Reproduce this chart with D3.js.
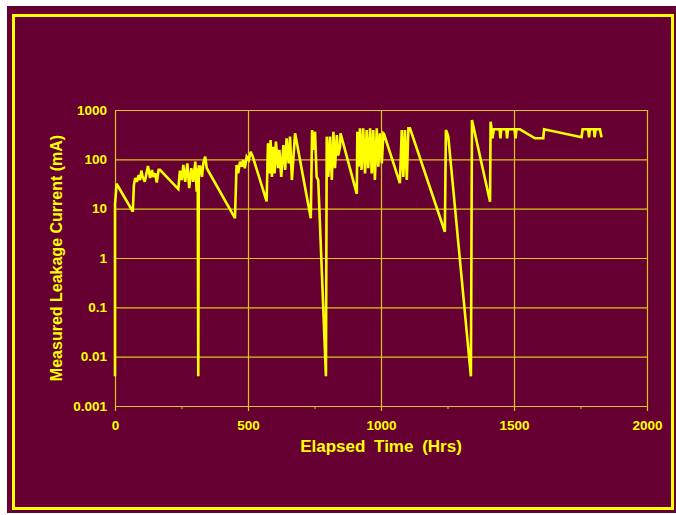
<!DOCTYPE html>
<html>
<head>
<meta charset="utf-8">
<script src="https://cdn.jsdelivr.net/npm/d3@7"></script>
<style>
body { margin: 0; background: #fff; }
text { font-family: "Liberation Sans", Arial, sans-serif; font-weight: bold; fill: #ffff00; }
</style>
</head>
<body>
<svg></svg>
<script>
// elapsed hours and measured current (mA)
var hours = [0, 0, 6, 67, 71, 76, 82, 89, 94, 99, 104, 112, 117, 124, 132, 139, 144, 151, 157, 164, 169,
	238, 244, 251, 257, 264, 272, 279, 287, 294, 302, 307, 311, 313, 315, 320, 327, 332, 339, 345,
	451, 457, 463, 470, 476, 482, 488, 495, 503, 510, 518,
	570, 575, 580, 585, 590, 595, 600, 605, 613, 618, 625, 633, 640, 645, 653, 658, 665, 677,
	736, 741, 745, 752, 758, 764, 793, 796, 802, 808, 815, 821, 827, 834, 839, 846, 848,
	909, 911, 916, 921, 927, 933, 940, 946, 952, 959, 965, 971, 977, 984, 990, 996, 1003, 1009, 1011,
	1071, 1078, 1084, 1090, 1097, 1103, 1109,
	1240, 1244, 1249, 1253, 1338, 1342, 1410, 1412,
	1416, 1419, 1424, 1446, 1449, 1452, 1471, 1474, 1477, 1502, 1506, 1509, 1522,
	1579, 1610, 1613, 1754, 1758, 1779, 1782, 1785, 1801, 1803, 1807, 1823, 1829];
var current = [0.004, 12, 32, 8.7, 30, 42, 35, 48, 38, 59, 44, 35, 48, 73, 42, 61, 44, 52, 34, 61, 61,
	25, 59, 38, 77, 35, 83, 26, 66, 35, 90, 22, 66, 0.004, 71, 71, 44, 83, 113, 66,
	6.4, 77, 52, 90, 71, 97, 66, 113, 97, 143, 113,
	14, 211, 52, 247, 44, 180, 52, 228, 66, 155, 44, 195, 61, 267, 83, 288, 38, 337,
	6.4, 394, 155, 363, 44, 38, 0.004, 288, 44, 288, 38, 363, 66, 311, 120, 180, 337,
	20, 363, 71, 426, 61, 426, 52, 394, 66, 426, 52, 394, 38, 426, 71, 337, 83, 337, 330,
	33, 394, 44, 394, 38, 426, 426,
	3.4, 394, 337, 288, 0.004, 627, 13.8, 579,
	406, 267, 406, 406, 267, 406, 406, 267, 406, 406, 267, 406, 406,
	267, 267, 406, 280, 406, 406, 280, 406, 406, 280, 406, 406, 280];

var xTicks = [0, 500, 1000, 1500, 2000];
var xMinor = [250, 750, 1250, 1750];
var yTicks = [0.001, 0.01, 0.1, 1, 10, 100, 1000];
var yLabels = ["0.001", "0.01", "0.1", "1", "10", "100", "1000"];

function draw(){
	var W = 676, H = 515;
	var pLeft = 115, pRight = 647, pTop = 110, pBottom = 406;

	var svg = d3.select("svg").attr("width", W).attr("height", H);

	svg.append("rect").attr("x", 7).attr("y", 6).attr("width", W - 7).attr("height", 507)
		.style("fill", "#660033");
	svg.append("rect").attr("x", 13.5).attr("y", 15.5).attr("width", 659).attr("height", 493)
		.style("fill", "none").style("stroke", "#ffff00").style("stroke-width", 3);

	var x = d3.scaleLinear().domain([0, 2000]).range([pLeft, pRight]);
	var y = d3.scaleLog().domain([0.001, 1000]).range([pBottom, pTop]);

	// horizontal grid + y labels
	var gy = svg.append("g").attr("transform", "translate(" + pLeft + ",0)")
		.call(d3.axisLeft(y).tickValues(yTicks)
			.tickFormat(function(d, i) { return yLabels[i]; })
			.tickSize(-(pRight - pLeft)).tickPadding(8));
	gy.select(".domain").remove();
	gy.selectAll("line").style("stroke", "#dcc418").style("stroke-width", 1.2);
	gy.selectAll("text").style("font-size", "13.5px").style("fill", "#ffff00");

	// vertical grid + x labels
	var gx = svg.append("g").attr("transform", "translate(0," + pBottom + ")")
		.call(d3.axisBottom(x).tickValues(xTicks).tickFormat(d3.format("d"))
			.tickSize(-(pBottom - pTop)).tickPadding(12));
	gx.select(".domain").remove();
	gx.selectAll("line").attr("y1", 5).style("stroke", "#dcc418").style("stroke-width", 1.2);
	gx.selectAll("text").attr("y", 14).style("font-size", "13.5px").style("fill", "#ffff00");

	var gm = svg.append("g").attr("transform", "translate(0," + pBottom + ")")
		.call(d3.axisBottom(x).tickValues(xMinor).tickSize(3).tickFormat(""));
	gm.select(".domain").remove();
	gm.selectAll("line").style("stroke", "#dcc418").style("stroke-width", 1);

	var line = d3.line()
		.x(function(d, i) { return x(hours[i]); })
		.y(function(d) { return y(d); });

	svg.append("path").datum(current)
		.attr("d", line)
		.style("fill", "none")
		.style("stroke", "#ffff00")
		.style("stroke-width", 2.6)
		.style("stroke-linejoin", "miter")
		.style("stroke-miterlimit", 3);

	svg.append("text").attr("x", 381).attr("y", 452)
		.attr("text-anchor", "middle")
		.style("font-size", "17px").style("word-spacing", "4px")
		.text("Elapsed Time (Hrs)");

	svg.append("text")
		.attr("transform", "translate(62,258) rotate(-90)")
		.attr("text-anchor", "middle")
		.style("font-size", "16px")
		.text("Measured Leakage Current (mA)");
}

draw();
</script>
</body>
</html>
